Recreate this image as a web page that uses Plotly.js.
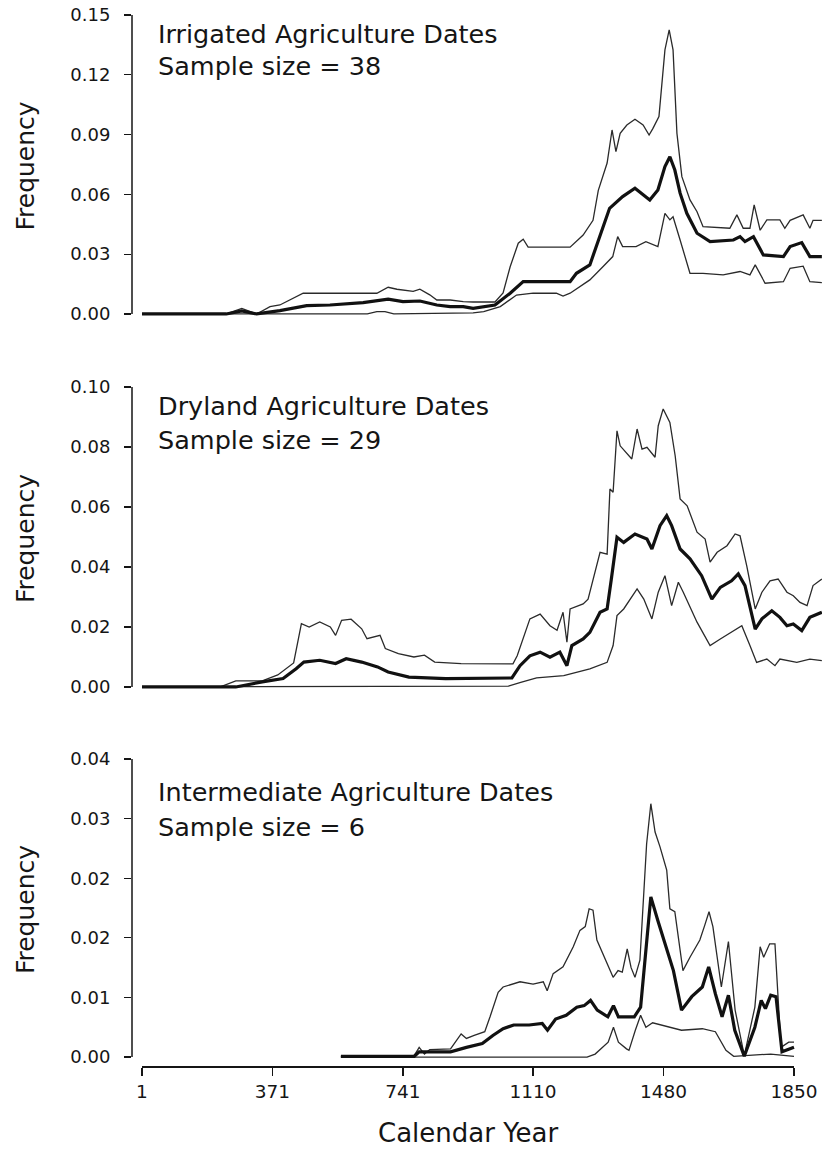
<!DOCTYPE html>
<html>
<head>
<meta charset="utf-8">
<script src="https://cdn.plot.ly/plotly-3.0.1.min.js"></script>
<style>html,body{margin:0;padding:0;background:#fff;}</style>
</head>
<body>
<div id="chart" style="width:822px;height:1149px;"></div>
<script>
// ---------- Data ----------
const xTickVals = [1, 371, 741, 1110, 1480, 1850];
const xTickText = ['1', '371', '741', '1110', '1480', '1850'];

// Panel 1: Irrigated Agriculture Dates
const irrUpperYear = [1,240,284,326,364,392,458,628,667,699,724,770,789,817,837,875,912,940,1002,1025,1045,1068,1082,1096,1215,1252,1280,1295,1320,1334,1345,1357,1376,1399,1422,1439,1450,1467,1484,1496,1507,1518,1532,1555,1575,1592,1668,1688,1706,1725,1737,1754,1773,1810,1824,1839,1876,1895,1904,1929];
const irrUpper = [0,0,0.0028,0,0.0037,0.0045,0.0104,0.0101,0.0104,0.0134,0.0124,0.0113,0.0124,0.0096,0.007,0.007,0.0062,0.006,0.006,0.0105,0.0237,0.0355,0.0375,0.0335,0.0335,0.0396,0.047,0.062,0.0757,0.0923,0.0814,0.0906,0.0948,0.0977,0.0948,0.0898,0.0931,0.099,0.1325,0.1425,0.1325,0.0906,0.0689,0.0572,0.0513,0.0438,0.043,0.0497,0.043,0.043,0.0547,0.042,0.0472,0.0472,0.043,0.047,0.0497,0.043,0.047,0.047];
const irrMeanYear = [1,240,284,326,392,468,534,628,699,741,789,837,875,912,940,1002,1045,1082,1215,1233,1271,1299,1327,1364,1399,1441,1464,1484,1498,1512,1527,1546,1575,1612,1678,1697,1711,1735,1763,1820,1839,1872,1895,1929];
const irrMean = [0,0,0.0015,0,0.0017,0.0042,0.0045,0.0057,0.0074,0.0062,0.0065,0.0045,0.0037,0.0037,0.0028,0.0045,0.0104,0.0162,0.0162,0.0204,0.0246,0.0388,0.053,0.0589,0.0631,0.0572,0.0622,0.0739,0.0789,0.0722,0.0606,0.0505,0.0405,0.0363,0.0371,0.0388,0.0363,0.0388,0.0296,0.0288,0.0338,0.0358,0.0288,0.0288];
const irrLowerYear = [1,640,667,690,715,875,940,970,1017,1063,1110,1176,1195,1215,1271,1308,1336,1350,1364,1402,1430,1464,1484,1498,1507,1527,1555,1592,1649,1697,1725,1740,1768,1820,1839,1876,1895,1929];
const irrLower = [0,0,0.0012,0.0012,0,0.0003,0.0005,0.0012,0.0037,0.0095,0.0104,0.0104,0.009,0.0104,0.0171,0.0237,0.0288,0.0388,0.0338,0.0338,0.0363,0.0338,0.0505,0.0472,0.0488,0.0371,0.0204,0.0204,0.0196,0.0213,0.0196,0.0246,0.0154,0.0162,0.0229,0.024,0.0162,0.0157];

// Panel 2: Dryland Agriculture Dates
const dryUpperYear = [1,223,267,342,386,431,453,475,505,535,550,567,594,624,639,661,676,691,728,772,802,831,906,1053,1065,1101,1130,1158,1178,1195,1206,1215,1252,1266,1300,1320,1328,1337,1348,1357,1390,1405,1419,1433,1456,1465,1479,1498,1513,1527,1547,1575,1598,1612,1632,1660,1683,1697,1716,1740,1759,1782,1805,1830,1848,1867,1887,1904,1929];
const dryUpper = [0,0,0.002,0.002,0.004,0.008,0.0211,0.02,0.0217,0.02,0.0172,0.0222,0.0226,0.0194,0.0161,0.0167,0.0172,0.0128,0.0111,0.01,0.0106,0.0083,0.0078,0.0077,0.0104,0.0227,0.0243,0.0204,0.0189,0.0249,0.0149,0.026,0.0277,0.0293,0.0449,0.0443,0.066,0.0649,0.0854,0.0804,0.076,0.086,0.0793,0.0799,0.0766,0.0871,0.0927,0.0882,0.0771,0.0627,0.0604,0.0516,0.0493,0.0416,0.0449,0.0471,0.051,0.0504,0.0404,0.026,0.0316,0.0354,0.036,0.0316,0.0304,0.0282,0.0271,0.0338,0.036];
const dryMeanYear = [1,267,342,401,438,460,505,550,580,624,669,699,758,862,1050,1073,1101,1130,1158,1186,1206,1220,1252,1271,1300,1320,1332,1348,1367,1399,1433,1447,1470,1489,1503,1527,1555,1588,1617,1641,1673,1692,1711,1740,1759,1787,1810,1830,1848,1872,1895,1929];
const dryMean = [0,0,0.0017,0.0028,0.0061,0.0083,0.0089,0.0078,0.0094,0.0083,0.0067,0.005,0.0033,0.0028,0.003,0.0071,0.0104,0.0116,0.0099,0.0116,0.0071,0.0138,0.016,0.0182,0.0249,0.026,0.036,0.0499,0.0482,0.051,0.0493,0.046,0.0538,0.0571,0.0538,0.046,0.0427,0.0371,0.0293,0.0332,0.0354,0.0377,0.0338,0.0193,0.0227,0.0254,0.0232,0.0204,0.021,0.0188,0.0232,0.0249];
const dryLowerYear = [1,1040,1075,1120,1197,1215,1271,1320,1337,1348,1367,1405,1424,1447,1465,1484,1503,1522,1536,1575,1612,1641,1673,1702,1725,1744,1773,1796,1810,1858,1895,1929];
const dryLower = [0,0.0003,0.0015,0.003,0.0038,0.0043,0.006,0.0082,0.0138,0.0238,0.026,0.0327,0.0293,0.0227,0.0316,0.0371,0.0271,0.0349,0.0316,0.0216,0.0138,0.016,0.0182,0.0204,0.0138,0.0082,0.0093,0.0071,0.0093,0.0082,0.0093,0.0088];

// Panel 3: Intermediate Agriculture Dates
const intUpperYear = [565,773,787,802,817,876,906,921,943,973,988,997,1011,1025,1073,1110,1139,1150,1167,1195,1224,1243,1258,1269,1280,1291,1320,1337,1351,1363,1377,1388,1399,1413,1432,1444,1456,1470,1489,1498,1512,1535,1555,1583,1597,1609,1620,1644,1664,1674,1683,1709,1739,1754,1764,1781,1796,1813,1835,1850];
const intUpper = [0.0001,0.0002,0.0013,0.0004,0.001,0.0011,0.0031,0.0025,0.0029,0.0034,0.0054,0.0067,0.0087,0.0094,0.0101,0.0098,0.0101,0.0089,0.0112,0.0121,0.0148,0.017,0.0175,0.0199,0.0197,0.0157,0.0125,0.0107,0.0116,0.0114,0.0145,0.012,0.0107,0.013,0.0286,0.034,0.0302,0.0282,0.0251,0.0199,0.0195,0.0116,0.0134,0.0157,0.0177,0.0195,0.0175,0.0094,0.0155,0.0107,0.0063,0.0002,0.0067,0.0148,0.0134,0.0152,0.0152,0.0013,0.002,0.002];
const intMeanYear = [565,773,787,876,921,966,996,1025,1055,1099,1136,1151,1174,1204,1234,1255,1273,1292,1322,1338,1352,1397,1415,1430,1444,1464,1486,1508,1531,1560,1590,1608,1627,1646,1664,1682,1709,1739,1757,1769,1784,1799,1816,1835,1850];
const intMean = [0.0001,0.0001,0.0007,0.0007,0.0013,0.0018,0.0029,0.0038,0.0043,0.0043,0.0045,0.0036,0.0051,0.0056,0.0067,0.0069,0.0076,0.0063,0.0054,0.0069,0.0054,0.0054,0.0067,0.0139,0.0215,0.0183,0.0148,0.0116,0.0063,0.0081,0.0094,0.0121,0.0085,0.0054,0.0083,0.0036,0.0001,0.004,0.0076,0.0065,0.0083,0.0081,0.0007,0.0011,0.0013];
const intLowerYear = [565,1263,1286,1323,1338,1352,1375,1382,1400,1415,1430,1449,1531,1590,1627,1657,1679,1784,1850];
const intLower = [0,0,0.0004,0.002,0.004,0.002,0.0011,0.0009,0.0036,0.0056,0.004,0.0046,0.0036,0.0038,0.0034,0.0009,0.0001,0.0004,0.0001];

const panelTitles = ['Irrigated Agriculture Dates', 'Dryland Agriculture Dates', 'Intermediate Agriculture Dates'];
const sampleSizes = [38, 29, 6];
const y1Ticks = [0, 0.03, 0.06, 0.09, 0.12, 0.15];
const y1Text = ['0.00', '0.03', '0.06', '0.09', '0.12', '0.15'];
const y2Ticks = [0, 0.02, 0.04, 0.06, 0.08, 0.10];
const y2Text = ['0.00', '0.02', '0.04', '0.06', '0.08', '0.10'];
const y3Ticks = [0, 0.008, 0.016, 0.024, 0.032, 0.040];
const y3Text = ['0.00', '0.01', '0.02', '0.02', '0.03', '0.04'];

// ---------- Styling ----------
const INK = '#151515';
const FONT = '"DejaVu Sans", "Liberation Sans", Arial, sans-serif';
const thin = {color: '#2a2a2a', width: 1.3};
const thick = {color: '#111111', width: 3.2};

function tr(x, y, line, xa, ya) {
  return {x: x, y: y, type: 'scatter', mode: 'lines', line: line, xaxis: xa, yaxis: ya, hoverinfo: 'skip'};
}
const data = [
  tr(irrUpperYear, irrUpper, thin, 'x', 'y'),
  tr(irrLowerYear, irrLower, thin, 'x', 'y'),
  tr(irrMeanYear, irrMean, thick, 'x', 'y'),
  tr(dryUpperYear, dryUpper, thin, 'x2', 'y2'),
  tr(dryLowerYear, dryLower, thin, 'x2', 'y2'),
  tr(dryMeanYear, dryMean, thick, 'x2', 'y2'),
  tr(intUpperYear, intUpper, thin, 'x3', 'y3'),
  tr(intLowerYear, intLower, thin, 'x3', 'y3'),
  tr(intMeanYear, intMean, thick, 'x3', 'y3')
];

const XR = [-27.4, 1929.4];
function hiddenX(anchor) {
  return {range: XR, anchor: anchor, visible: false, fixedrange: true};
}
function yAx(domain, range, tv, tt) {
  return {
    domain: domain, range: range, tickvals: tv, ticktext: tt,
    ticks: 'outside', ticklen: 7, tickwidth: 1.3, tickcolor: INK,
    ticklabelstandoff: 10,
    showline: false, showgrid: false, zeroline: false,
    tickfont: {family: FONT, size: 18, color: INK},
    title: {text: 'Frequency', font: {family: FONT, size: 25, color: INK}, standoff: 28},
    automargin: false, fixedrange: true
  };
}

const layout = {
  width: 822, height: 1149,
  margin: {l: 132, r: 0, t: 10, b: 82},
  paper_bgcolor: '#ffffff', plot_bgcolor: '#ffffff',
  showlegend: false,
  font: {family: FONT, color: INK},
  xaxis: hiddenX('y'),
  xaxis2: hiddenX('y2'),
  xaxis3: {
    range: XR, anchor: 'free', position: 0,
    tickvals: xTickVals, ticktext: xTickText,
    ticks: 'outside', ticklen: 8, tickwidth: 1.3, tickcolor: INK,
    showline: false, showgrid: false, zeroline: false,
    tickfont: {family: FONT, size: 18.5, color: INK},
    automargin: false, fixedrange: true
  },
  yaxis: yAx([0.7096, 0.9953], [-0.0015, 0.15], y1Ticks, y1Text),
  yaxis2: yAx([0.3567, 0.6433], [-0.001, 0.10], y2Ticks, y2Text),
  yaxis3: yAx([0.0066, 0.2914], [-0.0004, 0.04], y3Ticks, y3Text),
  shapes: [
    {type: 'line', xref: 'paper', x0: 0, x1: 0, yref: 'y', y0: y1Ticks[0], y1: y1Ticks[y1Ticks.length - 1], line: {color: INK, width: 1.5}},
    {type: 'line', xref: 'paper', x0: 0, x1: 0, yref: 'y2', y0: y2Ticks[0], y1: y2Ticks[y2Ticks.length - 1], line: {color: INK, width: 1.5}},
    {type: 'line', xref: 'paper', x0: 0, x1: 0, yref: 'y3', y0: y3Ticks[0], y1: y3Ticks[y3Ticks.length - 1], line: {color: INK, width: 1.5}},
    {type: 'line', xref: 'x3', x0: xTickVals[0], x1: xTickVals[xTickVals.length - 1], yref: 'paper', y0: 0, y1: 0, line: {color: INK, width: 2}}
  ],
  annotations: []
};

const titleY = [[0.9773, 0.947], [0.6254, 0.5932], [0.2602, 0.2271]];
panelTitles.forEach(function (t, i) {
  layout.annotations.push({text: t, xref: 'paper', yref: 'paper', x: 0.0348, y: titleY[i][0],
    xanchor: 'left', yanchor: 'middle', showarrow: false, font: {family: FONT, size: 25.5, color: INK}});
  layout.annotations.push({text: 'Sample size = ' + sampleSizes[i], xref: 'paper', yref: 'paper', x: 0.0348, y: titleY[i][1],
    xanchor: 'left', yanchor: 'middle', showarrow: false, font: {family: FONT, size: 25.5, color: INK}});
});
layout.annotations.push({text: 'Calendar Year', xref: 'x3', yref: 'paper',
  x: (xTickVals[0] + xTickVals[xTickVals.length - 1]) / 2, y: -0.0624,
  xanchor: 'center', yanchor: 'middle', showarrow: false, font: {family: FONT, size: 26, color: INK}});

Plotly.newPlot('chart', data, layout, {staticPlot: true, displayModeBar: false});
</script>
</body>
</html>
